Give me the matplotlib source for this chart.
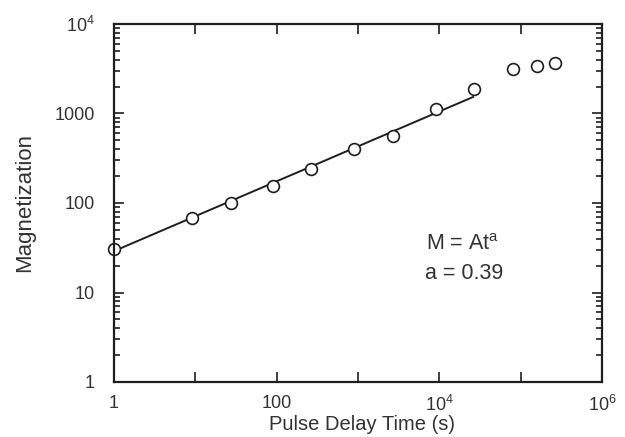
import matplotlib
matplotlib.use('Agg')
import matplotlib.pyplot as plt
from matplotlib.ticker import FixedLocator, LogLocator, NullFormatter

plt.rcParams['font.family'] = ['Liberation Sans', 'DejaVu Sans']
plt.rcParams['mathtext.fontset'] = 'custom'
plt.rcParams['mathtext.rm'] = 'Liberation Sans'
plt.rcParams['mathtext.default'] = 'regular'

# Measured points (pulse delay time in s, magnetization)
t_data = [1, 9.1, 27.5, 90, 265, 900, 2700, 9100, 27000, 81000, 160000, 265000]
m_data = [31, 68, 100, 155, 240, 400, 560, 1120, 1900, 3150, 3400, 3650]

# Power-law fit M = A t^a, drawn between its end points
fit_t = [1, 26000]
fit_m = [29, 1530]

x_ticks = [1, 10, 100, 1e3, 1e4, 1e5, 1e6]
x_labels = ['1', '', '100', '', '$10^4$', '', '$10^6$']
y_ticks = [1, 10, 100, 1000, 1e4]
y_labels = ['1', '10', '100', '1000', '$10^4$']

ink = '#1e1e1e'
txt = '#333333'

fig = plt.figure(figsize=(6.25, 4.37), dpi=100)
ax = fig.add_axes([114 / 625, 1 - 382 / 437, 488 / 625, 358 / 437])

ax.plot(fit_t, fit_m, color=ink, lw=1.4)
ax.plot(t_data, m_data, 'o', mfc='white', mec=ink, mew=1.2, ms=8.5, clip_on=False)

ax.set_xscale('log')
ax.set_yscale('log')
ax.set_xlim(1, 1e6)
ax.set_ylim(1, 1e4)

# x: major ticks every decade, labels only every second decade
ax.set_xticks(x_ticks)
ax.set_xticklabels(x_labels)
ax.xaxis.set_minor_locator(FixedLocator([]))

ax.set_yticks(y_ticks)
ax.set_yticklabels(y_labels)
ax.yaxis.set_minor_locator(LogLocator(base=10, subs=range(2, 10)))
ax.yaxis.set_minor_formatter(NullFormatter())

ax.tick_params(which='both', direction='in', top=True, right=True, color=ink,
               labelcolor=txt, labelsize=13, width=1.2)
ax.tick_params(which='major', length=7)
ax.tick_params(axis='x', which='major', pad=9)
ax.tick_params(axis='y', which='major', pad=14)
ax.tick_params(which='minor', length=4)
for s in ax.spines.values():
    s.set_linewidth(1.6)
    s.set_color(ink)

# x label placed in figure pixels so it sits just under the tick labels
fig.text(362 / 625, 1 - 425 / 437, 'Pulse Delay Time (s)', fontsize=14.5,
         color=txt, ha='center', va='center')
ax.set_ylabel('Magnetization', fontsize=16, color=txt, labelpad=14)

ax.text(0.64, 0.383, 'M = At$^a$', transform=ax.transAxes, fontsize=15.5,
        color=txt, va='center')
ax.text(0.638, 0.304, 'a = 0.39', transform=ax.transAxes, fontsize=15.5,
        color=txt, va='center')

fig.savefig('out.png', dpi=100)
